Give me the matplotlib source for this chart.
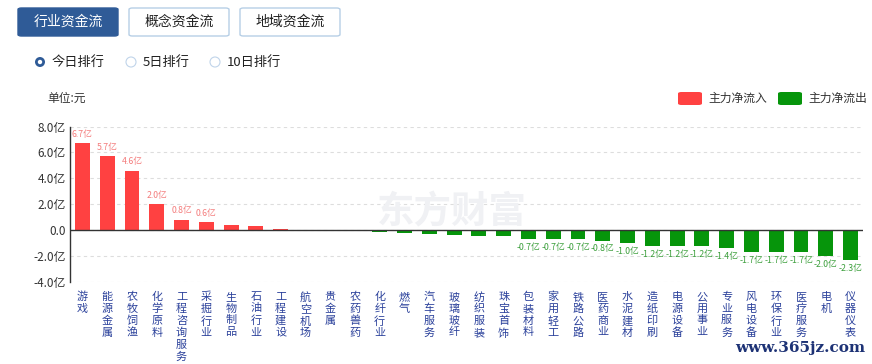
import matplotlib
matplotlib.use('Agg')
import matplotlib.pyplot as plt
from matplotlib.patches import FancyBboxPatch, Circle

plt.rcParams['font.family'] = ['Noto Sans CJK SC', 'DejaVu Sans']

categories = ['游戏', '能源金属', '农牧饲渔', '化学原料', '工程咨询服务', '采掘行业', '生物制品',
              '石油行业', '工程建设', '航空机场', '贵金属', '农药兽药', '化纤行业', '燃气',
              '汽车服务', '玻璃玻纤', '纺织服装', '珠宝首饰', '包装材料', '家用轻工', '铁路公路',
              '医药商业', '水泥建材', '造纸印刷', '电源设备', '公用事业', '专业服务', '风电设备',
              '环保行业', '医疗服务', '电机', '仪器仪表']
# 主力净流入 (亿元)
values = [6.7, 5.7, 4.6, 2.0, 0.8, 0.6, 0.38, 0.3, 0.08, 0.05,
          -0.1, -0.1, -0.12, -0.25, -0.28, -0.4, -0.44, -0.46,
          -0.7, -0.7, -0.7, -0.8, -1.0, -1.2, -1.2, -1.2, -1.4,
          -1.7, -1.7, -1.7, -2.0, -2.3]
labeled = [0, 1, 2, 3, 4, 5] + list(range(18, 32))
yticks = [-4, -2, 0, 2, 4, 6, 8]
ytick_labels = ['-4.0亿', '-2.0亿', '0.0', '2.0亿', '4.0亿', '6.0亿', '8.0亿']

RED = '#ff4141'
GREEN = '#06950b'
W, H = 872, 364

fig = plt.figure(figsize=(W / 100, H / 100), dpi=100)
ax = fig.add_axes([70 / W, 1 - 282 / H, 793 / W, 155.5 / H])

x = list(range(len(categories)))
colors = [RED if v >= 0 else GREEN for v in values]
bars = ax.bar(x, values, width=0.6, color=colors, edgecolor='none', zorder=3)
for i in labeled:
    v = values[i]
    if v >= 0:
        ax.text(i, v + 0.35, '%.1f亿' % v, ha='center', va='bottom', fontsize=6.3, color='#f47c7c')
    else:
        ax.text(i, v - 0.3, '%.1f亿' % v, ha='center', va='top', fontsize=6.3, color='#3c9f3c')

ax.set_xlim(-0.5, len(categories) - 0.5)
ax.set_ylim(-4, 8)
ax.set_yticks(yticks)
ax.set_yticklabels(ytick_labels, fontsize=8.5, color='#333333')
ax.set_xticks(x)
ax.set_xticklabels(['\n'.join(c) for c in categories], fontsize=8, color='#2b419b',
                   linespacing=1.22, va='top')
ax.tick_params(axis='x', length=0, pad=7)
ax.tick_params(axis='y', length=0, pad=3)
ax.grid(axis='y', linestyle=(0, (3, 3)), color='#dddddd', linewidth=0.8, zorder=0)
ax.axhline(0, color='#333333', linewidth=1, zorder=4)
for s in ['top', 'right', 'bottom']:
    ax.spines[s].set_visible(False)
ax.spines['left'].set_color('#333333')
ax.spines['left'].set_linewidth(1)

# watermark
fig.text(452 / W, 1 - 212 / H, '东方财富', fontsize=27, fontweight='bold', color='#f0f1f4',
         ha='center', va='center', zorder=1)

fig.text(47 / W, 1 - 98 / H, '单位:元', fontsize=8.5, color='#333333', va='center')

# legend
for x0, col, lab in [(678, RED, '主力净流入'), (778, GREEN, '主力净流出')]:
    fig.add_artist(FancyBboxPatch((x0 / W, 1 - 105 / H), 24 / W, 13 / H,
                                  boxstyle='round,pad=0,rounding_size=0.004',
                                  transform=fig.transFigure, facecolor=col, edgecolor='none'))
    fig.text((x0 + 30) / W, 1 - 98.5 / H, lab, fontsize=8.5, color='#333333', va='center')

# buttons
buttons = [('行业资金流', 18, True), ('概念资金流', 129, False), ('地域资金流', 240, False)]
for lab, x0, active in buttons:
    fig.add_artist(FancyBboxPatch((x0 / W, 1 - 36 / H), 100 / W, 28 / H,
                                  boxstyle='round,pad=0,rounding_size=0.004',
                                  transform=fig.transFigure,
                                  facecolor='#2f5b97' if active else 'white',
                                  edgecolor='#2f5b97' if active else '#b7cfe6', linewidth=1))
    fig.text((x0 + 50) / W, 1 - 22 / H, lab, fontsize=10, ha='center', va='center',
             color='white' if active else '#222222')

# radio options
radios = [('今日排行', 40, True), ('5日排行', 131, False), ('10日排行', 215, False)]
for lab, cx, active in radios:
    if active:
        fig.add_artist(Circle((cx / 100, (H - 62) / 100), 0.05, transform=fig.dpi_scale_trans,
                              facecolor='#2f5b97', edgecolor='none'))
        fig.add_artist(Circle((cx / 100, (H - 62) / 100), 0.022, transform=fig.dpi_scale_trans,
                              facecolor='white', edgecolor='none'))
    else:
        fig.add_artist(Circle((cx / 100, (H - 62) / 100), 0.05, transform=fig.dpi_scale_trans,
                              facecolor='white', edgecolor='#c0d4ea', linewidth=0.8))
    fig.text((cx + 12) / W, 1 - 62 / H, lab, fontsize=9.5, color='#222222', va='center')

fig.text(865 / W, 1 - 348 / H, 'www.365jz.com', fontsize=11, fontweight='bold',
         family='DejaVu Serif', color='#1d3275', ha='right', va='center')

plt.savefig('out.png', dpi=100)
